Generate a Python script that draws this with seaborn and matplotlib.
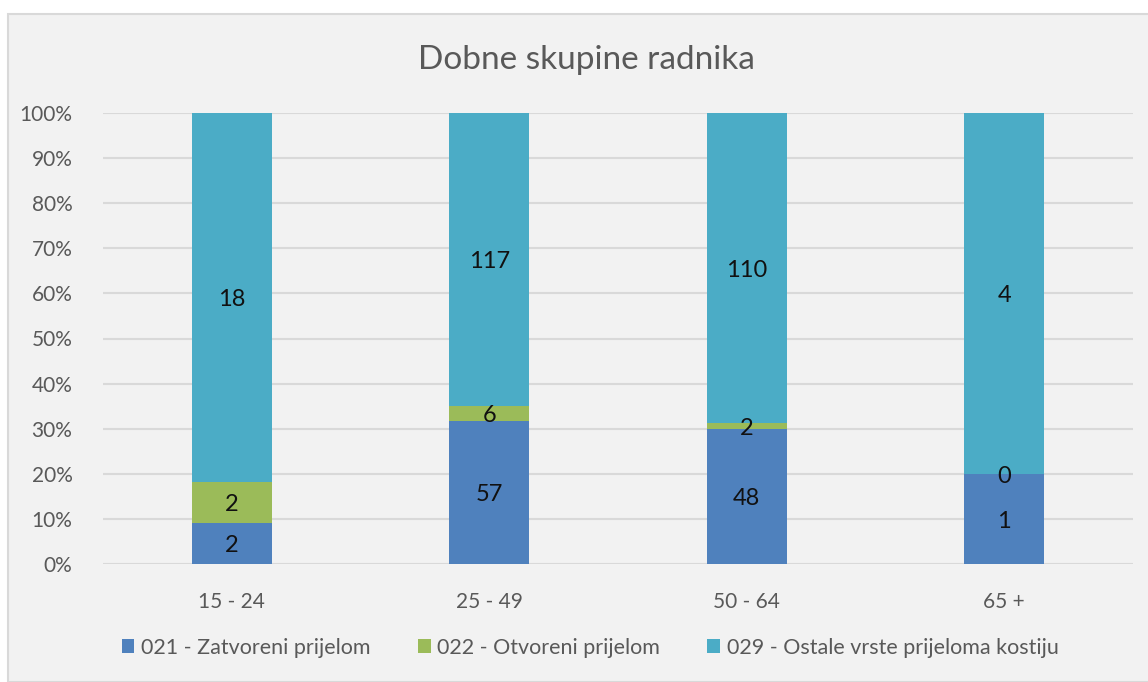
import matplotlib
matplotlib.use("Agg")
import matplotlib.pyplot as plt
from matplotlib.patches import Rectangle, Patch
from matplotlib.ticker import PercentFormatter
import numpy as np
import pandas as pd
import seaborn as sns

# --- data ---
age_groups = ["15 - 24", "25 - 49", "50 - 64", "65 +"]
series_names = ["021 - Zatvoreni prijelom", "022 - Otvoreni prijelom",
                "029 - Ostale vrste prijeloma kostiju"]
closed = [2, 57, 48, 1]
open_ = [2, 6, 2, 0]
other = [18, 117, 110, 4]
colors = ["#4f81bd", "#9bbb59", "#4bacc6"]

sns.set_theme(style="white")
plt.rcParams["font.family"] = ["Lato", "DejaVu Sans"]

counts = np.array([closed, open_, other], dtype=float)
shares = counts / counts.sum(axis=0) * 100
cum = np.cumsum(shares, axis=0)

fig = plt.figure(figsize=(11.48, 6.82), dpi=100)
fig.patch.set_facecolor("white")
# chart area background with thin border (behind the axes)
fig.patches.append(Rectangle((8 / 1148, 0), 1.0, 1 - 14 / 682, transform=fig.transFigure,
                             facecolor="#f2f2f2", edgecolor="#d9d9d9", linewidth=1.5, zorder=-5))

ax = fig.add_axes([103 / 1148, 1 - 564 / 682, 1030 / 1148, 451 / 682])
ax.set_facecolor("#f2f2f2")

# stacked bars: draw cumulative heights from the top layer down
for i in reversed(range(3)):
    df = pd.DataFrame({"grupa": age_groups, "udio": cum[i]})
    sns.barplot(data=df, x="grupa", y="udio", color=colors[i], width=0.31,
                saturation=1, ax=ax, zorder=2, linewidth=0)

# value labels in the middle of each segment
for i in range(3):
    for j in range(len(age_groups)):
        mid = cum[i][j] - shares[i][j] / 2
        ax.text(j, mid - 0.5, f"{int(counts[i][j])}", ha="center", va="center",
                fontsize=17, color="#111111", zorder=3)

ax.set_ylim(0, 100)
ax.set_xlim(-0.5, len(age_groups) - 0.5)
ax.set_yticks(np.arange(0, 101, 10))
ax.yaxis.set_major_formatter(PercentFormatter(decimals=0))
ax.grid(axis="y", color="#d9d9d9", linewidth=1.5, zorder=0)
ax.set_axisbelow(True)
ax.tick_params(axis="y", length=0, pad=22, labelsize=15, labelcolor="#595959")
ax.tick_params(axis="x", length=0, pad=20, labelsize=15, labelcolor="#595959")
ax.set_xlabel("")
ax.set_ylabel("")
for s in ax.spines.values():
    s.set_visible(False)

fig.text(0.511, 0.912, "Dobne skupine radnika", ha="center", va="center",
         fontsize=24, color="#595959")

handles = [Patch(facecolor=c, edgecolor="none") for c in colors]
fig.legend(handles, series_names, loc="center", bbox_to_anchor=(0.514, 0.05), ncol=3,
           frameon=False, fontsize=15.5, labelcolor="#595959", handlelength=0.6,
           handleheight=0.6, handletextpad=0.3, columnspacing=2.2)

fig.savefig("out.png", dpi=100, facecolor=fig.get_facecolor())
